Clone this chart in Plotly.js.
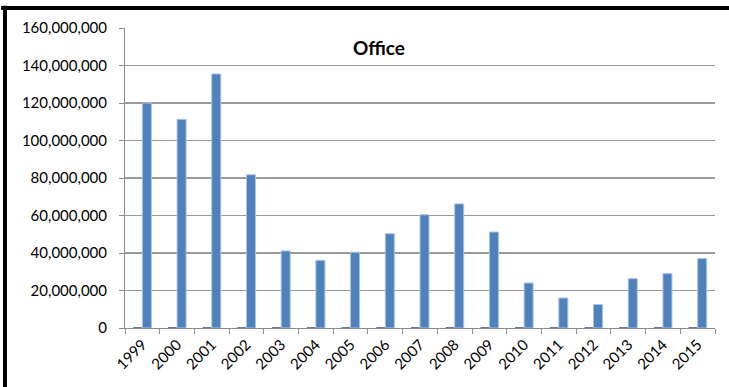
<!DOCTYPE html>
<html>
<head>
<meta charset="utf-8">
<script src="https://cdn.plot.ly/plotly-3.0.1.min.js"></script>
<style>
  html, body { margin: 0; padding: 0; background: #fff; }
  #chart { width: 729px; height: 387px; }
</style>
</head>
<body>
<div id="chart"></div>
<script>
// Office space by year
const years = ["1999","2000","2001","2002","2003","2004","2005","2006","2007",
               "2008","2009","2010","2011","2012","2013","2014","2015"];
const baseSeries = [500000,500000,500000,500000,500000,500000,500000,500000,500000,
                    500000,500000,500000,500000,500000,500000,500000,500000];
const officeSeries = [120000000,111300000,135500000,81700000,41100000,36100000,40400000,
                      50300000,60400000,66200000,51200000,24000000,16000000,12500000,
                      26300000,29000000,37000000];
const yTicks = [0,20000000,40000000,60000000,80000000,100000000,120000000,140000000,160000000];
const yTickText = ["0","20,000,000","40,000,000","60,000,000","80,000,000",
                   "100,000,000","120,000,000","140,000,000","160,000,000"];

const font = "Lato, 'Open Sans', 'Liberation Sans', sans-serif";

const traces = [
  {
    type: "bar", x: years, y: baseSeries, name: "Base",
    marker: { color: "#5E7491" },
    hoverinfo: "skip"
  },
  {
    type: "bar", x: years, y: officeSeries, name: "Office",
    marker: { color: "#4F81BD", line: { color: "#A9C3E3", width: 1 } }
  }
];

const layout = {
  width: 729, height: 387,
  margin: { l: 125, r: 14, t: 28, b: 59 },
  paper_bgcolor: "#ffffff", plot_bgcolor: "#ffffff",
  showlegend: false,
  barmode: "group",
  bargap: 0.48, bargroupgap: 0,
  font: { family: font, size: 15, color: "#000" },
  xaxis: {
    type: "category",
    tickangle: -45,
    tickson: "boundaries",
    ticks: "outside", ticklen: 5, tickcolor: "#8c8c8c", tickwidth: 1,
    showline: true, linecolor: "#8c8c8c", linewidth: 1,
    showgrid: false, zeroline: false,
    ticklabelstandoff: 1,
    tickfont: { family: font, size: 15, color: "#000" }
  },
  yaxis: {
    range: [0, 160000000],
    tickmode: "array", tickvals: yTicks, ticktext: yTickText,
    ticks: "outside", ticklen: 5, tickcolor: "#8c8c8c", tickwidth: 1,
    showline: true, linecolor: "#8c8c8c", linewidth: 1,
    showgrid: true, gridcolor: "#999999", gridwidth: 1.3,
    zeroline: false,
    ticklabelstandoff: 9,
    tickfont: { family: font, size: 15, color: "#000" }
  },
  annotations: [{
    text: "<b>Office</b>", xref: "paper", yref: "paper",
    x: 0.43, y: 0.935, xanchor: "center", yanchor: "middle",
    showarrow: false, font: { family: font, size: 19, color: "#000" }
  }],
  shapes: [
    // frame: heavy black rule along the top and left edges
    { type: "line", xref: "paper", yref: "paper",
      x0: -0.21, x1: 1.03, y0: 1.067, y1: 1.067,
      line: { color: "#000", width: 4 } },
    { type: "line", xref: "paper", yref: "paper",
      x0: -0.2034, x1: -0.2034, y0: 1.074, y1: -0.2,
      line: { color: "#000", width: 4 } }
  ]
};

Plotly.newPlot("chart", traces, layout, { displayModeBar: false, staticPlot: true });
</script>
</body>
</html>
